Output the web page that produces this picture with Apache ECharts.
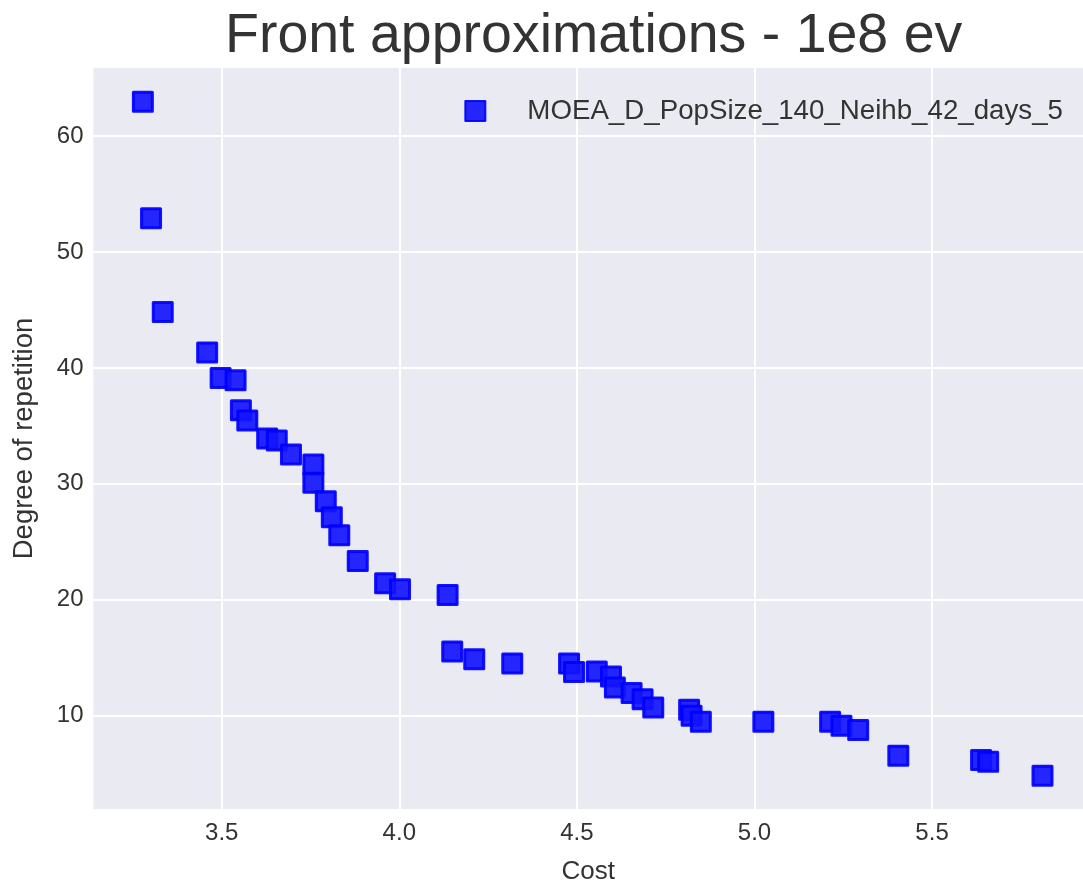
<!DOCTYPE html>
<html>
<head>
<meta charset="utf-8">
<script src="https://cdn.jsdelivr.net/npm/echarts@6/dist/echarts.min.js"></script>
<style>
  html, body { margin: 0; padding: 0; background: #fff; }
  #chart { width: 1083px; height: 890px; }
</style>
</head>
<body>
<div id="chart"></div>
<script>
// front points
const cost = [
  3.278, 3.301, 3.334, 3.459, 3.497, 3.539, 3.554, 3.572, 3.628, 3.655,
  3.695, 3.758, 3.758, 3.793, 3.810, 3.831, 3.883, 3.960, 4.002, 4.136,
  4.149, 4.211, 4.318, 4.478, 4.492, 4.556, 4.596, 4.607, 4.654, 4.685,
  4.715, 4.816, 4.823, 4.849, 5.025, 5.213, 5.245, 5.292, 5.405, 5.638,
  5.658, 5.811
]
const repetition = [
  62.96, 52.92, 44.82, 41.34, 39.14, 38.93, 36.35, 35.46, 33.91, 33.74,
  32.53, 31.67, 30.09, 28.51, 27.13, 25.56, 23.34, 21.42, 20.90, 20.41,
  15.54, 14.88, 14.50, 14.50, 13.78, 13.82, 13.38, 12.44, 11.95, 11.43,
  10.72, 10.51, 10.00, 9.48, 9.48, 9.48, 9.13, 8.77, 6.55, 6.18,
  6.03, 4.82
]
const xTicks = [3.5, 4.0, 4.5, 5.0, 5.5]
const yTicks = [10, 20, 30, 40, 50, 60]
const seriesName = 'MOEA_D_PopSize_140_Neihb_42_days_5'

const points = cost.map((c, i) => [c, repetition[i]])

const chart = echarts.init(document.getElementById('chart'))
const font = 'Liberation Sans, Arial, sans-serif'
const textColor = '#333'

const option = {
  animation: false,
  textStyle: { fontFamily: font },
  title: {
    text: 'Front approximations - 1e8 ev',
    left: 220,
    top: 4,
    textStyle: { fontSize: 55.5, fontWeight: 'normal', color: textColor, fontFamily: font }
  },
  legend: {
    data: [seriesName],
    right: 15,
    top: 92,
    icon: 'rect',
    itemWidth: 20,
    itemHeight: 20,
    textStyle: {
      fontSize: 27.7,
      color: textColor,
      padding: [0, 0, 0, 37]
    }
  },
  grid: {
    left: 93.5,
    right: 0,
    top: 68,
    bottom: 80,
    show: true,
    backgroundColor: '#eaeaf2',
    borderWidth: 0
  },
  xAxis: {
    type: 'value',
    min: 3.139,
    max: 5.925,
    name: 'Cost',
    nameLocation: 'middle',
    nameGap: 50,
    nameTextStyle: { fontSize: 26, color: textColor },
    axisLine: { show: false },
    axisTick: { show: false, customValues: xTicks },
    axisLabel: {
      customValues: xTicks,
      fontSize: 24,
      color: textColor,
      margin: 12,
      formatter: v => v.toFixed(1)
    },
    splitLine: { show: true, lineStyle: { color: '#fff', width: 2 } }
  },
  yAxis: {
    type: 'value',
    min: 1.955,
    max: 65.87,
    name: 'Degree of repetition',
    nameLocation: 'middle',
    nameGap: 55,
    nameTextStyle: { fontSize: 27.5, color: textColor },
    axisLine: { show: false },
    axisTick: { show: false, customValues: yTicks },
    axisLabel: {
      customValues: yTicks,
      fontSize: 24,
      color: textColor,
      margin: 10
    },
    splitLine: { show: true, lineStyle: { color: '#fff', width: 2 } }
  },
  series: [
    {
      name: seriesName,
      type: 'scatter',
      data: points,
      symbol: 'rect',
      symbolSize: 19,
      itemStyle: {
        opacity: 1,
        color: 'rgba(20,20,255,0.92)',
        borderColor: 'rgba(0,0,255,0.92)',
        borderWidth: 3,
        borderJoin: 'round'
      }
    }
  ]
}

chart.setOption(option)
</script>
</body>
</html>
